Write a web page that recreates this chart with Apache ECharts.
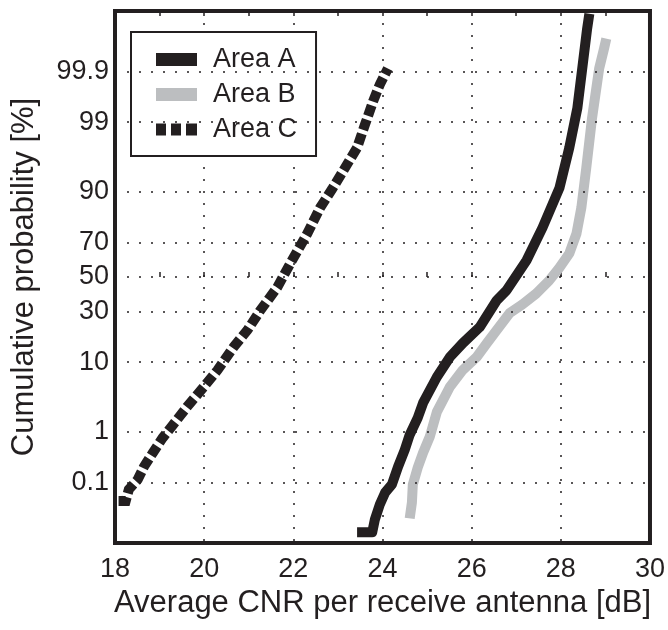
<!DOCTYPE html>
<html><head><meta charset="utf-8">
<script src="https://cdn.jsdelivr.net/npm/echarts@6/dist/echarts.min.js"></script>
<style>html,body{margin:0;padding:0;background:#fff}#c{width:668px;height:630px}</style>
</head><body><div id="c"></div>
<script>
// ---- data ----
const seriesNames = ['Area A', 'Area B', 'Area C'];

const areaA_cnr  = [23.43,23.77,23.83,23.94,24.06,24.21,24.35,24.50,24.61,24.79,24.91,25.22,25.51,25.80,26.18,26.56,26.78,27.23,27.59,27.97,28.19,28.37,28.48,28.59,28.64];
const areaA_prob = [0.00615,0.00615,0.0134,0.0312,0.0596,0.090,0.217,0.470,0.882,1.71,2.91,6.63,11.4,15.96,22.5,36.2,42.0,59.8,77.1,91.0,97.4,99.44,99.914,99.9906,99.99625];

const areaB_cnr  = [24.61,24.66,24.68,24.79,24.91,25.06,25.22,25.51,25.80,26.11,26.34,26.56,26.85,27.14,27.45,27.74,27.97,28.19,28.35,28.46,28.57,28.70,28.86,28.97,29.02];
const areaB_prob = [0.0142,0.0348,0.090,0.207,0.412,0.813,2.13,4.91,8.08,11.4,15.96,21.2,29.3,34.0,40.2,47.9,55.6,63.8,74.2,85.1,94.9,99.153,99.914,99.9705,99.9832];

const areaC_cnr  = [18.08,18.24,18.31,18.51,18.65,18.85,19.07,19.30,19.65,19.99,20.30,20.66,20.97,21.26,21.64,21.93,22.31,22.60,22.87,23.12,23.43,23.61,23.79,23.94,24.12];
const areaC_prob = [0.038,0.038,0.070,0.116,0.217,0.412,0.78,1.31,2.72,4.91,8.08,14.6,21.2,30.8,43.8,58.0,74.2,85.1,90.7,94.5,97.4,98.92,99.59,99.81,99.914];

const probTickValues = [0.1, 1, 10, 30, 50, 70, 90, 99, 99.9];
const probTickLabels = ['0.1', '1', '10', '30', '50', '70', '90', '99', '99.9'];
const cnrMin = 18, cnrMax = 30, cnrLabelStep = 2;

// ---- normal-probability (probit) scale transform ----
function norminv(p) {
  const a=[-3.969683028665376e+01,2.209460984245205e+02,-2.759285104469687e+02,1.383577518672690e+02,-3.066479806614716e+01,2.506628277459239e+00];
  const b=[-5.447609879822406e+01,1.615858368580409e+02,-1.556989798598866e+02,6.680131188771972e+01,-1.328068155288572e+01];
  const c=[-7.784894002430293e-03,-3.223964580411365e-01,-2.400758277161838e+00,-2.549732539343734e+00,4.374664141464968e+00,2.938163982698783e+00];
  const d=[7.784695709041462e-03,3.224671290700398e-01,2.445134137142996e+00,3.754408661907416e+00];
  const pl = 0.02425, ph = 1 - pl;
  let q, r;
  if (p < pl) { q = Math.sqrt(-2*Math.log(p)); return (((((c[0]*q+c[1])*q+c[2])*q+c[3])*q+c[4])*q+c[5])/((((d[0]*q+d[1])*q+d[2])*q+d[3])*q+1); }
  if (p <= ph) { q = p-0.5; r = q*q; return (((((a[0]*r+a[1])*r+a[2])*r+a[3])*r+a[4])*r+a[5])*q/(((((b[0]*r+b[1])*r+b[2])*r+b[3])*r+b[4])*r+1); }
  q = Math.sqrt(-2*Math.log(1-p)); return -(((((c[0]*q+c[1])*q+c[2])*q+c[3])*q+c[4])*q+c[5])/((((d[0]*q+d[1])*q+d[2])*q+d[3])*q+1);
}
const probit = pct => norminv(pct / 100);
const toPairs = (xs, ps) => xs.map((x, i) => [x, probit(ps[i])]);
const tickProbits = probTickValues.map(probit);

const INK = '#231f20', GRAY = '#bcbec0';
const FONT = '"Liberation Sans", Arial, Helvetica, sans-serif';
const gridDots = { color: INK, width: 1.5, type: [2, 10] };

const chart = echarts.init(document.getElementById('c'), null, { renderer: 'canvas' });
chart.setOption({
  animation: false,
  backgroundColor: '#fff',
  textStyle: { fontFamily: FONT, color: INK },
  grid: { left: 115, right: 17, top: 11, bottom: 87, show: true, borderWidth: 4, borderColor: INK, backgroundColor: 'transparent', containLabel: false },
  legend: {
    orient: 'vertical', left: 131, top: 32,
    padding: [14, 19, 13, 25],
    backgroundColor: '#fff', borderColor: INK, borderWidth: 2, borderRadius: 0,
    itemWidth: 41, itemHeight: 13, itemGap: 8,
    itemStyle: { borderWidth: 0 },
    textStyle: { fontSize: 27, color: INK, fontFamily: FONT, padding: [0, 0, 0, 11] },
    data: [
      { name: seriesNames[0], icon: 'rect' },
      { name: seriesNames[1], icon: 'rect' },
      { name: seriesNames[2], icon: 'path://M0,0h10v12h-10zM15,0h10v12h-10zM30,0h11v12h-11z' }
    ],
    selectedMode: false
  },
  xAxis: [{
    type: 'value', min: cnrMin, max: cnrMax, interval: cnrLabelStep, position: 'bottom',
    name: 'Average CNR per receive antenna [dB]', nameLocation: 'middle', nameGap: 44,
    nameTextStyle: { fontSize: 31, color: INK, fontFamily: FONT },
    axisLine: { show: false },
    axisTick: { show: true, inside: true, length: 5, lineStyle: { color: INK, width: 1.5 } },
    minorTick: { show: true, splitNumber: 2, length: 5, lineStyle: { color: INK, width: 1.5 } },
    axisLabel: { fontSize: 27, color: INK, margin: 13, fontFamily: FONT },
    splitLine: { show: true, lineStyle: gridDots },
    minorSplitLine: { show: false }
  }, {
    type: 'value', min: cnrMin, max: cnrMax, interval: cnrLabelStep, position: 'top',
    axisLine: { show: false },
    axisTick: { show: true, inside: true, length: 5, lineStyle: { color: INK, width: 1.5 } },
    minorTick: { show: true, splitNumber: 2, length: 5, lineStyle: { color: INK, width: 1.5 } },
    axisLabel: { show: false },
    splitLine: { show: false }
  }],
  yAxis: {
    type: 'value', min: -4, max: 4,
    name: 'Cumulative probability [%]', nameLocation: 'middle', nameGap: 75,
    nameTextStyle: { fontSize: 31, color: INK, fontFamily: FONT },
    axisLine: { show: false },
    axisTick: { show: false },
    splitLine: { show: false },
    axisLabel: {
      fontSize: 27, color: INK, margin: 6, fontFamily: FONT,
      customValues: tickProbits,
      formatter: v => {
        let best = 0;
        tickProbits.forEach((t, i) => { if (Math.abs(t - v) < Math.abs(tickProbits[best] - v)) best = i; });
        return probTickLabels[best];
      }
    }
  },
  series: [
    {
      name: 'grid', type: 'line', data: [], silent: true, xAxisIndex: 0,
      markLine: { silent: true, symbol: 'none', label: { show: false }, lineStyle: gridDots,
        data: tickProbits.map(t => ({ yAxis: t })), animation: false }
    },
    { name: seriesNames[0], type: 'line', data: toPairs(areaA_cnr, areaA_prob), showSymbol: false, symbol: 'none',
      color: INK, itemStyle: { color: INK }, lineStyle: { color: INK, width: 10, cap: 'butt', join: 'round' }, z: 3 },
    { name: seriesNames[1], type: 'line', data: toPairs(areaB_cnr, areaB_prob), showSymbol: false, symbol: 'none',
      color: GRAY, itemStyle: { color: GRAY }, lineStyle: { color: GRAY, width: 10, cap: 'butt', join: 'round' }, z: 2 },
    { name: seriesNames[2], type: 'line', data: toPairs(areaC_cnr, areaC_prob), showSymbol: false, symbol: 'none',
      color: INK, itemStyle: { color: INK }, lineStyle: { color: INK, width: 10, type: [11, 4], cap: 'butt', join: 'miter' }, z: 3 }
  ]
});
</script></body></html>
